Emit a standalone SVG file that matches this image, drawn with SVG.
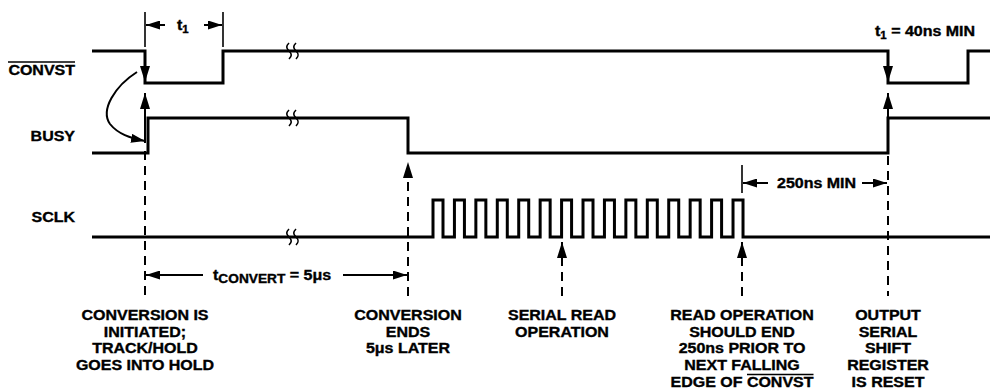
<svg xmlns="http://www.w3.org/2000/svg" width="990" height="392" viewBox="0 0 990 392">
<style>
.sig{fill:none;stroke:#000;stroke-width:3;stroke-linejoin:miter;stroke-linecap:butt}
.brk{fill:none;stroke:#000;stroke-width:1.6}
.dash{fill:none;stroke:#000;stroke-width:2;stroke-dasharray:9,6}
.arr{fill:none;stroke:#000;stroke-width:2}
.tick{fill:none;stroke:#000;stroke-width:1.6}
.ol{stroke:#000;stroke-width:1.6}
text{font-family:"Liberation Sans",Arial,sans-serif;font-weight:bold;font-size:14px;fill:#000;stroke:#000;stroke-width:0.35}
.c{text-anchor:middle}
.r{text-anchor:end}
</style>
<defs>
<marker id="ah" viewBox="0 0 16 10" refX="16" refY="5" markerWidth="16" markerHeight="10" orient="auto" markerUnits="userSpaceOnUse"><path d="M0,0L16,5L0,10z"/></marker>
<marker id="ahs" viewBox="0 0 14 9" refX="14" refY="4.5" markerWidth="14" markerHeight="9" orient="auto" markerUnits="userSpaceOnUse"><path d="M0,0L14,4.5L0,9z"/></marker>
<path id="brk" class="brk" d="M0,-8c-3,3 -3,5 0,8c3,3 3,5 0,8M7,-8c-3,3 -3,5 0,8c3,3 3,5 0,8"/>
</defs>
<rect width="990" height="392" fill="#fff"/>

<g id="convst">
<g transform="translate(75,0) scale(1.143,1)"><text class="r" x="0" y="75">CONVST</text></g>
<line class="ol" x1="8" y1="62" x2="75" y2="62"/>
<path class="sig" d="M92,51H145V83H223V51H888V83H968V51H990"/>
<use href="#brk" x="289" y="51"/>
</g>

<g id="busy">
<g transform="translate(75,0) scale(1.143,1)"><text class="r" x="0" y="141">BUSY</text></g>
<path class="sig" d="M92,153H148V118H408V153H888V118H990"/>
<use href="#brk" x="289" y="118"/>
</g>

<g id="sclk">
<g transform="translate(75,0) scale(1.143,1)"><text class="r" x="0" y="222">SCLK</text></g>
<path class="sig" d="M92,237H433V200h10V237h11.43V200h10V237h11.43V200h10V237h11.43V200h10V237h11.43V200h10V237h11.43V200h10V237h11.43V200h10V237h11.43V200h10V237h11.43V200h10V237h11.43V200h10V237h11.43V200h10V237h11.43V200h10V237h11.43V200h10V237h11.43V200h10V237h11.43V200h10V237H990"/>
<use href="#brk" x="289" y="237"/>
</g>

<g id="connectors">
<line class="arr" x1="145" y1="51" x2="145" y2="82" marker-end="url(#ah)"/>
<line class="arr" x1="888" y1="51" x2="888" y2="82" marker-end="url(#ah)"/>
<line class="arr" x1="145" y1="143" x2="145" y2="93" marker-end="url(#ah)"/>
<line class="dash" x1="145" y1="151" x2="145" y2="296"/>
<line class="arr" x1="888" y1="118" x2="888" y2="93" marker-end="url(#ah)"/>
<line class="dash" x1="888" y1="156" x2="888" y2="296"/>
<line class="dash" x1="408" y1="296" x2="408" y2="162" marker-end="url(#ah)"/>
<line class="dash" x1="562" y1="296" x2="562" y2="242" marker-end="url(#ah)"/>
<line class="dash" x1="742" y1="296" x2="742" y2="242" marker-end="url(#ah)"/>
<path class="arr" d="M137,72C115,86 100,110 110,124C118,134 130,138 145,141" marker-end="url(#ahs)"/>
</g>

<g id="dim-t1">
<line class="tick" x1="145" y1="12" x2="145" y2="47"/>
<line class="tick" x1="223" y1="12" x2="223" y2="47"/>
<line class="arr" x1="165" y1="25" x2="146" y2="25" marker-end="url(#ahs)"/>
<line class="arr" x1="204" y1="25" x2="222" y2="25" marker-end="url(#ahs)"/>
<g transform="translate(177,0) scale(1.143,1)"><text x="0" y="30">t<tspan font-size="10" dy="3">1</tspan></text></g>
</g>

<g id="t1-note">
<g transform="translate(875,0) scale(1.143,1)"><text x="0" y="36">t<tspan font-size="10" dy="3">1</tspan><tspan dy="-3"> = 40ns MIN</tspan></text></g>
</g>

<g id="dim-250">
<line class="tick" x1="742" y1="165" x2="742" y2="193"/>
<line class="arr" x1="768" y1="183" x2="743" y2="183" marker-end="url(#ahs)"/>
<line class="arr" x1="862" y1="183" x2="887" y2="183" marker-end="url(#ahs)"/>
<g transform="translate(777,0) scale(1.143,1)"><text x="0" y="188">250ns MIN</text></g>
</g>

<g id="dim-tconvert">
<line class="arr" x1="203" y1="275" x2="146" y2="275" marker-end="url(#ahs)"/>
<line class="arr" x1="343" y1="275" x2="407" y2="275" marker-end="url(#ahs)"/>
<g transform="translate(213,0) scale(1.143,1)"><text x="0" y="280">t<tspan font-size="12" dy="3">CONVERT</tspan><tspan dy="-3"> = 5μs</tspan></text></g>
</g>

<g id="label-start">
<g transform="translate(145,0) scale(1.143,1)">
<text class="c" x="0" y="320">CONVERSION IS</text>
<text class="c" x="0" y="336.75">INITIATED;</text>
<text class="c" x="0" y="353.5">TRACK/HOLD</text>
<text class="c" x="0" y="370.25">GOES INTO HOLD</text>
</g>
</g>

<g id="label-end">
<g transform="translate(408,0) scale(1.143,1)">
<text class="c" x="0" y="320">CONVERSION</text>
<text class="c" x="0" y="336.75">ENDS</text>
<text class="c" x="0" y="353.5">5μs LATER</text>
</g>
</g>

<g id="label-read">
<g transform="translate(562,0) scale(1.143,1)">
<text class="c" x="0" y="320">SERIAL READ</text>
<text class="c" x="0" y="336.75">OPERATION</text>
</g>
</g>

<g id="label-readend">
<g transform="translate(742,0) scale(1.143,1)">
<text class="c" x="0" y="320">READ OPERATION</text>
<text class="c" x="0" y="336.75">SHOULD END</text>
<text class="c" x="0" y="353.5">250ns PRIOR TO</text>
<text class="c" x="0" y="370.25">NEXT FALLING</text>
<text class="c" x="0" y="387">EDGE OF CONVST</text>
</g>
<line class="ol" x1="747" y1="374.5" x2="813.5" y2="374.5"/>
</g>

<g id="label-reset">
<g transform="translate(888,0) scale(1.143,1)">
<text class="c" x="0" y="320">OUTPUT</text>
<text class="c" x="0" y="336.75">SERIAL</text>
<text class="c" x="0" y="353.5">SHIFT</text>
<text class="c" x="0" y="370.25">REGISTER</text>
<text class="c" x="0" y="387">IS RESET</text>
</g>
</g>
</svg>
